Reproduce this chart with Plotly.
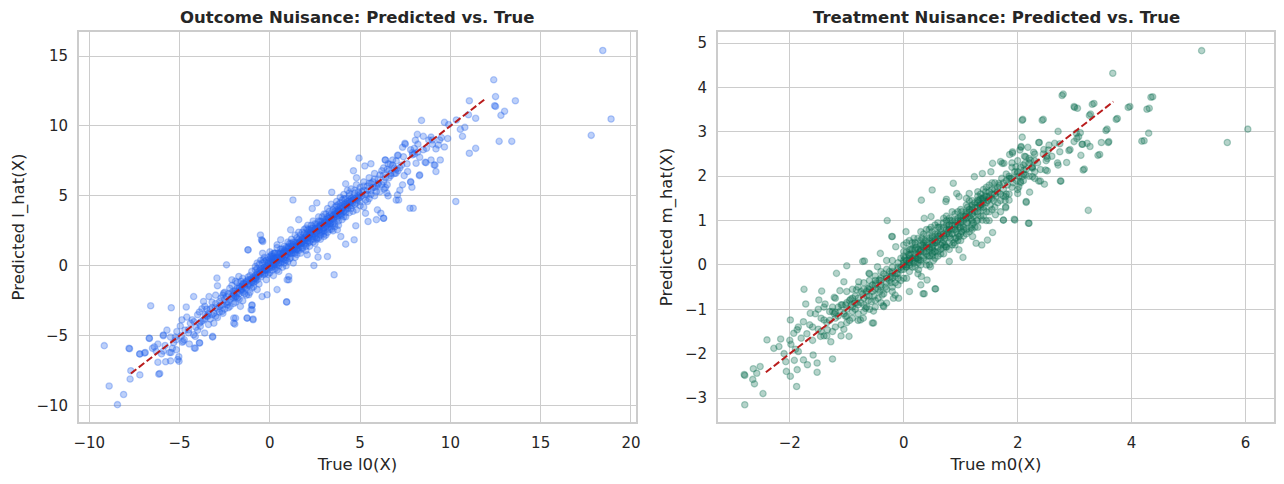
import plotly.graph_objects as go

# ---------------------------------------------------------------------------
# data (true value, predicted value)
# ---------------------------------------------------------------------------
l_low = [
    (-9.17, -5.71), (-8.9, -8.6), (-8.44, -9.93), (-8.1, -9.2), (-7.8, -5.9), (-7.7, -7.5),
    (-7.74, -8.1), (-7.2, -7.8), (-7.2, -6.3), (-6.9, -6.2), (-6.6, -2.86), (-6.67, -5.2),
    (-6.5, -5.9), (-6.4, -5.8), (-6.2, -5.6), (-6.1, -7.7), (-6.15, -7.75), (-6.2, -6.9),
    (-6.0, -6.3), (-5.9, -5.0), (-5.7, -4.6), (-5.55, -6.2), (-5.5, -6.8), (-5.46, -3.0),
    (-5.4, -5.9), (-5.33, -5.5), (-5.24, -5.1), (-5.15, -4.7), (-5.1, -6.7), (-5.04, -6.5),
    (-4.96, -4.3), (-4.87, -3.86), (-4.8, -5.4), (-4.63, -2.95), (-4.6, -3.67), (-4.5, -4.57),
    (-4.3, -3.86), (-4.22, -2.2), (-4.13, -5.9), (-4.13, -5.05), (-3.9, -5.5), (-3.85, -4.33),
    (-3.76, -3.07), (-3.67, -2.55), (-3.57, -3.5), (-3.43, -3.6), (-3.37, -2.2), (-3.2, -3.0),
    (-3.17, -5.05), (-3.1, -4.1), (-2.93, -0.88), (-2.9, -1.43), (-2.78, -2.55), (-2.65, -3.26),
    (-2.56, -1.95), (-2.4, 0.07), (-2.37, -2.8), (-2.22, -1.6), (-2.1, -1.0), (-2.0, -3.74),
    (-1.94, -4.17), (-1.85, -2.2), (-1.72, -0.76), (-1.63, -2.9), (-1.54, -1.7), (-1.44, -1.24),
    (-1.26, -3.74), (-1.22, 1.14), (-1.17, -2.07), (-1.04, -3.14), (-1.0, -2.83), (-0.93, -3.8),
    (-0.9, -1.0), (-0.8, -0.05), (-0.7, -1.7), (-0.52, 2.2), (-0.43, 1.8), (-0.37, 0.43),
    (-0.24, -0.52), (-0.15, -2.07), (0.13, 0.67), (0.22, -0.05), (0.4, 1.5), (0.93, -2.57),
    (1.05, -1.0), (-7.77, -5.93), (-7.21, -6.31), (-6.94, -6.24), (-6.68, -5.17), (-5.9, -4.95),
    (-5.77, -6.86), (-5.47, -6.2), (-5.03, -6.83), (-4.85, -5.47), (-4.74, -5.28), (-4.46, -5.59),
    (-4.18, -5.88), (-3.89, -5.52), (-3.61, -4.81), (-3.17, -5.1), (-4.22, -4.93), (-5.18, -6.0),
    (-5.9, -6.1),
]
l_mid = [
    (4.94, 7.7), (3.43, 5.26), (1.28, 4.71), (-0.46, 1.86), (-0.39, 1.74), (-1.2, 1.14),
    (3.56, -0.64), (0.93, -2.6), (7.76, 4.12), (6.3, 3.4), (5.9, 3.3), (5.44, 3.17), (4.76, 2.86),
    (4.67, 1.86), (4.2, 1.55), (3.19, 0.67), (2.44, 0.02), (2.67, 0.62), (2.1, 1.6), (1.6, 3.3),
    (2.35, 4.1), (2.6, 4.5), (4.2, 5.86), (4.63, 6.8), (4.8, 6.3), (5.26, 7.14), (5.6, 7.3),
    (6.4, 7.57), (6.55, 7.3), (7.07, 7.9), (7.5, 8.7), (7.9, 8.1), (8.3, 6.5), (8.6, 7.4),
    (7.8, 5.98), (7.2, 5.4), (7.0, 4.7), (6.48, 5.2), (5.96, 4.0), (5.3, 3.76), (5.4, 4.6),
    (4.1, 3.5), (3.74, 2.57), (3.93, 2.1), (3.0, 2.1), (2.63, 1.14), (2.07, 0.79), (1.52, 1.14),
    (1.15, 2.57), (0.6, 1.86), (0.22, 0.9), (0.96, -1.0), (1.05, -0.76), (0.4, -1.7),
    (-0.43, -2.2), (-0.98, -3.14), (-0.98, -2.8), (-1.26, -3.74), (-0.93, -3.86), (-2.0, -4.1),
    (-1.9, -3.74),
]
l_high = [
    (18.44, 15.4), (18.9, 10.5), (17.8, 9.33), (12.4, 13.3), (12.5, 12.1), (13.6, 11.8),
    (11.05, 11.8), (12.5, 11.4), (12.45, 11.45), (13.0, 11.05), (12.8, 10.76), (11.4, 10.55),
    (12.7, 8.9), (13.4, 8.9), (11.4, 8.4), (11.05, 8.05), (11.0, 10.8), (10.67, 9.26),
    (10.8, 9.9), (10.55, 9.76), (10.33, 10.43), (10.3, 4.6), (9.67, 10.26), (9.9, 10.1),
    (9.85, 9.1), (9.67, 8.5), (9.44, 7.57), (9.2, 8.36), (9.2, 6.74), (9.15, 7.2), (9.0, 9.0),
    (8.93, 9.2), (9.4, 9.0), (9.33, 8.64), (9.5, 9.17), (8.4, 10.4), (8.5, 9.26), (8.17, 9.4),
    (8.06, 8.98), (8.68, 8.4), (8.93, 7.57), (8.19, 8.14), (8.0, 8.4), (7.48, 8.76), (7.35, 8.48),
    (7.9, 7.93), (8.3, 7.76), (8.1, 7.33), (8.65, 7.38), (9.1, 7.21), (8.28, 6.45), (7.8, 6.02),
    (7.87, 5.62), (7.94, 4.12), (7.11, 7.9), (6.67, 7.26), (6.39, 7.57), (6.8, 7.57), (6.3, 7.0),
    (6.7, 6.45), (6.98, 6.62), (7.44, 6.45), (7.63, 6.74), (7.35, 5.79), (7.07, 5.07),
    (7.13, 4.71), (6.33, 5.48), (6.55, 5.0), (6.15, 3.76), (6.3, 3.4),
]
l_core = [
    (-4.0, -4.6), (-3.9, -3.3), (-3.8, -4.0), (-3.7, -3.9), (-3.6, -2.9), (-3.5, -3.6),
    (-3.4, -4.2), (-3.3, -3.1), (-3.2, -2.6), (-3.1, -3.4), (-3.0, -3.0), (-3.0, -2.1),
    (-2.9, -3.7), (-2.8, -2.9), (-2.7, -2.3), (-2.6, -2.8), (-2.5, -1.9), (-2.5, -3.1),
    (-2.4, -2.6), (-2.3, -2.0), (-2.2, -2.9), (-2.1, -1.4), (-2.0, -2.3), (-2.0, -1.8),
    (-1.9, -2.6), (-1.8, -1.2), (-1.7, -2.0), (-1.7, -1.5), (-1.6, -1.8), (-1.5, -2.5),
    (-1.5, -0.9), (-1.4, -1.6), (-1.3, -1.1), (-1.3, -2.1), (-1.2, -1.4), (-1.1, -0.7),
    (-1.1, -1.9), (-1.0, -1.2), (-1.0, -0.4), (-0.9, -1.5), (-0.9, -0.9), (-0.8, -0.3),
    (-0.8, -1.1), (-0.7, -0.6), (-0.7, 0.2), (-0.6, -1.3), (-0.6, -0.4), (-0.5, -0.8),
    (-0.5, 0.4), (-0.4, -0.2), (-0.4, 0.9), (-0.3, -0.6), (-0.3, 0.3), (-0.2, 0.0),
    (-0.2, -1.0), (-0.1, 0.6), (-0.1, -0.3), (0.0, 0.2), (0.0, -0.5), (0.0, 1.0), (0.1, -0.1),
    (0.1, 0.5), (0.2, -0.7), (0.2, 0.3), (0.3, 0.9), (0.3, -0.2), (0.4, 0.1), (0.4, 1.3),
    (0.5, 0.6), (0.5, -0.4), (0.6, 0.2), (0.6, 1.0), (0.7, 0.7), (0.7, -0.1), (0.8, 1.4),
    (0.8, 0.4), (0.9, 1.0), (0.9, 0.0), (1.0, 0.8), (1.0, 1.7), (1.1, 0.5), (1.1, 1.2),
    (1.2, 1.9), (1.2, 0.9), (1.3, 1.4), (1.3, 0.2), (1.4, 1.1), (1.4, 2.2), (1.5, 1.6),
    (1.5, 0.8), (1.6, 1.3), (1.6, 2.4), (1.7, 1.8), (1.7, 0.9), (1.8, 2.0), (1.8, 1.3),
    (1.9, 2.6), (1.9, 1.6), (2.0, 1.1), (2.0, 2.2), (2.1, 1.8), (2.1, 2.9), (2.2, 2.3),
    (2.2, 1.4), (2.3, 2.7), (2.3, 1.9), (2.4, 3.2), (2.4, 2.1), (2.5, 2.6), (2.5, 1.6),
    (2.6, 3.0), (2.6, 2.3), (2.7, 2.0), (2.7, 3.5), (2.8, 2.8), (2.8, 1.9), (2.9, 3.2),
    (2.9, 2.4), (3.0, 3.7), (3.0, 2.7), (3.1, 2.2), (3.1, 3.3), (3.2, 3.0), (3.2, 4.1),
    (3.3, 2.6), (3.3, 3.6), (3.4, 3.1), (3.4, 4.4), (3.5, 3.4), (3.5, 2.5), (3.6, 3.9),
    (3.6, 3.0), (3.7, 4.6), (3.7, 3.5), (3.8, 2.9), (3.8, 4.0), (3.9, 3.7), (3.9, 4.9),
    (4.0, 3.3), (4.0, 4.3), (4.1, 3.9), (4.1, 5.1), (4.2, 4.5), (4.2, 3.5), (4.3, 4.1),
    (4.3, 5.4), (4.4, 3.8), (4.4, 4.7), (4.5, 4.3), (4.5, 5.5), (4.6, 3.9), (4.6, 4.9),
    (4.7, 5.2), (4.7, 4.4), (4.8, 5.8), (4.8, 4.0), (4.9, 5.0), (5.0, 4.6), (5.0, 5.6),
    (5.1, 5.3), (5.2, 4.2), (5.2, 6.0), (5.3, 5.1), (5.4, 5.7), (5.5, 4.8), (5.5, 6.3),
    (5.6, 5.4), (5.7, 6.0), (5.8, 5.0), (5.8, 6.6), (5.9, 5.7), (6.0, 6.2), (6.1, 5.3),
    (6.2, 6.8), (6.3, 6.0), (6.4, 5.6), (6.5, 6.9), (6.6, 6.3), (6.8, 7.2), (6.9, 6.6),
    (7.0, 7.5), (7.2, 7.0), (7.4, 7.8), (7.6, 7.3), (7.8, 8.3), (8.0, 8.0), (8.2, 8.7),
    (8.5, 8.3), (8.8, 9.0), (9.0, 8.7),
    (-2.8, -3.3), (-2.6, -2.1), (-2.3, -2.6), (-2.1, -2.2), (-1.9, -1.1), (-1.8, -2.3),
    (-1.6, -1.1), (-1.4, -2.0), (-1.2, -0.8), (-1.0, -1.6), (-0.8, -0.7), (-0.6, 0.1),
    (-0.5, -0.2), (-0.4, -0.6), (-0.3, 0.6), (-0.2, -0.3), (-0.1, 0.2), (0.0, -0.1),
    (0.1, 0.8), (0.2, 0.1), (0.3, 0.4), (0.4, -0.3), (0.5, 0.2), (0.6, 0.6), (0.7, 1.2),
    (0.8, 0.9), (0.9, 0.4), (1.0, 1.2), (1.1, 1.6), (1.2, 1.2), (1.3, 0.9), (1.4, 1.7),
    (1.5, 1.2), (1.6, 1.9), (1.7, 1.4), (1.8, 2.4), (1.9, 2.0), (2.0, 1.6), (2.1, 2.4),
    (2.2, 2.0), (2.3, 2.3), (2.4, 2.7), (2.5, 2.1), (2.6, 2.7), (2.7, 2.5), (2.8, 3.2),
    (2.9, 2.9), (3.0, 3.2), (3.1, 2.8), (3.2, 3.5), (3.3, 3.2), (3.4, 3.7), (3.5, 3.0),
    (3.6, 3.5), (3.7, 4.0), (3.8, 3.6), (3.9, 4.2), (4.0, 3.8), (4.1, 4.4), (4.2, 4.0),
    (4.3, 4.6), (4.4, 4.3), (4.5, 4.8), (4.6, 4.5), (4.8, 4.9), (5.0, 5.1), (5.2, 5.4),
    (5.4, 5.1), (5.6, 5.9), (5.8, 5.6), (6.0, 5.8), (6.3, 6.5), (6.6, 6.8), (7.0, 6.9),
    (-0.7, -0.2), (-0.3, -0.1), (0.0, 0.5), (0.2, 0.6), (0.4, 0.6), (0.6, 0.9), (0.8, 0.2),
    (1.0, 0.3), (1.2, 1.6), (1.4, 0.6), (1.6, 1.6), (1.8, 1.7), (2.0, 2.7), (2.2, 2.6),
    (2.4, 1.7), (2.6, 1.9), (2.8, 2.4), (3.0, 2.3), (3.2, 2.4), (3.4, 2.8), (3.6, 4.2),
    (3.8, 4.4), (4.0, 4.7), (4.2, 4.8), (4.4, 5.0), (-1.5, -1.3), (-2.0, -2.7), (-2.5, -2.4),
    (-3.0, -3.6), (-3.5, -3.1), (-4.2, -4.0), (-4.5, -4.8), (-4.0, -3.5), (-3.3, -3.8),
]
l_core2 = [
    (-3.0, -2.7), (-2.9, -3.1), (-2.7, -2.8), (-2.6, -3.4), (-2.4, -2.2), (-2.3, -3.0),
    (-2.2, -2.4), (-2.1, -1.9), (-2.0, -2.0), (-1.9, -2.2), (-1.8, -1.6), (-1.7, -2.4),
    (-1.6, -1.5), (-1.5, -1.9), (-1.4, -1.3), (-1.3, -1.6), (-1.2, -1.0), (-1.1, -1.4),
    (-1.0, -0.9), (-0.9, -1.2), (-0.8, -0.9), (-0.7, -1.0), (-0.6, -0.7), (-0.5, -0.5),
    (-0.4, 0.2), (-0.3, -0.3), (-0.2, 0.4), (-0.1, -0.6), (0.0, 0.0), (0.05, 0.7), (0.1, 0.2),
    (0.15, -0.3), (0.2, 0.5), (0.25, 0.9), (0.3, 0.1), (0.35, 0.6), (0.4, 0.3), (0.45, 0.9),
    (0.5, 0.0), (0.55, 0.5), (0.6, 1.2), (0.65, 0.4), (0.7, 0.9), (0.75, 0.5), (0.8, 1.1),
    (0.85, 0.7), (0.9, 1.3), (0.95, 0.6), (1.0, 1.0), (1.05, 1.4), (1.1, 0.9), (1.15, 0.6),
    (1.2, 1.4), (1.25, 1.1), (1.3, 1.7), (1.35, 1.2), (1.4, 0.9), (1.45, 1.4), (1.5, 2.0),
    (1.55, 1.5), (1.6, 1.1), (1.65, 1.7), (1.7, 2.2), (1.75, 1.6), (1.8, 1.2), (1.85, 1.9),
    (1.9, 2.3), (1.95, 1.8), (2.0, 1.4), (2.05, 2.0), (2.1, 2.6), (2.15, 2.1), (2.2, 1.7),
    (2.25, 2.4), (2.3, 2.9), (2.35, 2.2), (2.4, 1.9), (2.45, 2.5), (2.5, 3.0), (2.55, 2.4),
    (2.6, 2.0), (2.65, 2.8), (2.7, 3.2), (2.75, 2.5), (2.8, 2.2), (2.85, 3.0), (2.9, 3.5),
    (2.95, 2.7), (3.0, 2.5), (3.05, 3.1), (3.1, 3.7), (3.15, 2.9), (3.2, 2.7), (3.25, 3.4),
    (3.3, 3.9), (3.35, 3.0), (3.4, 2.6), (3.45, 3.5), (3.5, 4.0), (3.55, 3.3), (3.6, 2.8),
    (3.65, 3.7), (3.7, 4.3), (3.75, 3.4), (3.8, 3.2), (3.85, 3.9), (3.9, 4.5), (3.95, 3.6),
    (4.0, 4.0), (4.1, 4.8), (4.2, 3.8), (4.3, 4.4), (4.4, 5.2), (4.5, 4.1), (4.6, 4.7),
    (4.7, 5.4), (4.8, 4.5), (4.9, 5.3), (5.0, 4.3), (5.1, 5.0), (5.2, 5.7), (5.3, 4.7),
    (5.4, 5.4), (5.5, 5.9), (5.6, 5.1), (5.7, 5.6), (5.8, 6.2), (5.9, 5.3), (6.0, 5.9),
    (6.1, 6.5), (6.2, 5.8), (6.4, 6.3), (6.5, 5.8), (6.7, 6.6), (6.9, 7.0), (7.1, 6.8),
    (7.3, 7.2), (-3.6, -3.8), (-3.9, -4.1), (-4.1, -4.4), (-4.4, -4.1), (-4.7, -4.6),
    (-4.9, -5.0), (-5.2, -5.3), (-5.5, -5.1), (-5.8, -5.7), (-6.3, -6.1), (-3.4, -3.4),
    (-3.2, -3.5),
]
l_core3 = [
    (-2.0, -2.1), (-1.9, -1.8), (-1.8, -1.9), (-1.7, -1.6), (-1.6, -1.7), (-1.5, -1.4),
    (-1.4, -1.5), (-1.3, -1.2), (-1.2, -1.3), (-1.1, -1.0), (-1.0, -1.1), (-0.9, -0.8),
    (-0.8, -0.9), (-0.7, -0.5), (-0.6, -0.6), (-0.5, -0.3), (-0.4, -0.4), (-0.3, -0.1),
    (-0.2, -0.2), (-0.1, 0.1), (0.0, 0.3), (0.1, 0.0), (0.2, 0.4), (0.3, 0.5), (0.4, 0.4),
    (0.5, 0.8), (0.6, 0.5), (0.7, 0.8), (0.8, 1.0), (0.9, 0.8), (1.0, 1.3), (1.1, 1.0),
    (1.2, 1.1), (1.3, 1.5), (1.4, 1.3), (1.5, 1.7), (1.6, 1.5), (1.7, 1.7), (1.8, 1.9),
    (1.9, 1.8), (2.0, 2.1), (2.1, 2.0), (2.2, 2.2), (2.3, 2.5), (2.4, 2.3), (2.5, 2.7),
    (2.6, 2.5), (2.7, 2.7), (2.8, 2.9), (2.9, 2.6), (3.0, 3.0), (3.1, 3.1), (3.2, 3.2),
    (3.3, 3.4), (3.4, 3.3), (3.5, 3.6), (3.6, 3.7), (3.7, 3.8), (3.8, 3.9), (3.9, 3.9),
    (4.0, 4.1), (4.1, 4.2), (4.2, 4.3), (4.3, 4.3), (4.4, 4.5), (4.5, 4.6), (4.6, 4.7),
    (4.7, 4.8), (4.8, 4.7), (4.9, 4.8), (5.0, 4.9), (0.25, 0.2), (0.75, 0.9), (1.25, 1.3),
    (1.75, 1.6), (2.25, 2.3), (2.75, 2.8), (3.25, 3.0), (3.75, 3.7), (-0.25, -0.3),
    (-0.75, -0.8),
]

m_low = [
    (-2.79, -3.15), (-2.8, -2.47), (-2.79, -2.49), (-2.64, -2.34), (-2.65, -2.58), (-2.62, -2.68),
    (-2.52, -2.29), (-2.58, -2.44), (-2.47, -2.9), (-2.4, -1.69), (-2.28, -1.88), (-2.19, -1.84),
    (-2.16, -1.67), (-1.99, -1.24), (-1.98, -1.79), (-2.07, -2.18), (-2.06, -2.4), (-1.99, -2.51),
    (-1.92, -2.15), (-1.88, -2.74), (-1.87, -2.36), (-1.85, -1.95), (-1.93, -1.54), (-1.87, -1.46),
    (-1.76, -1.28), (-1.76, -2.14), (-1.75, -0.55), (-1.72, -0.88), (-1.69, -2.25), (-1.64, -1.09),
    (-1.6, -1.4), (-1.59, -2.03), (-1.52, -2.42), (-1.52, -2.21), (-1.5, -1.0), (-1.49, -0.79),
    (-1.46, -1.61), (-1.44, -0.59), (-1.4, -1.24), (-1.38, -0.88), (-1.34, -1.46), (-1.28, -1.73),
    (-1.25, -2.12), (-1.25, -1.05), (-1.22, -0.73), (-1.18, -0.19), (-1.2, -1.07), (-1.12, -0.58),
    (-1.08, -0.9), (-1.05, -0.38), (-1.0, -0.02), (-1.02, -1.16), (-0.96, -1.61), (-0.93, -0.77),
    (-0.86, -0.86), (-0.83, -0.56), (-0.79, -0.38), (-0.76, -1.24), (-0.72, 0.08), (-0.67, -0.98),
    (-0.65, -0.6), (-0.61, -0.19), (-0.57, -0.83), (-0.53, -1.31), (-0.49, -0.41), (-0.46, -0.04),
    (-0.41, 0.26), (-0.38, -0.68), (-0.35, -0.94), (-0.29, 1.0), (-0.23, -0.26), (-0.21, 0.64),
    (-0.18, -0.75), (-0.14, 0.41), (-0.09, -0.75), (-0.04, -0.11), (0.09, 0.23), (0.18, 0.04),
    (0.26, -0.11), (0.31, -0.26), (0.34, -0.65), (0.41, -0.34), (0.47, -0.04), (0.53, 0.3),
    (0.55, -0.54),
]
m_mid = [
    (0.31, 1.46), (0.5, 1.69), (0.87, 1.84), (0.75, 1.48), (0.93, 1.61), (1.24, 1.99),
    (1.38, 2.06), (1.53, 2.1), (1.56, 2.29), (1.73, 2.29), (1.91, 2.52), (2.06, 2.65),
    (2.14, 2.44), (2.37, 2.76), (2.49, 2.14), (2.52, 2.4), (2.4, 1.89), (2.2, 0.94), (2.15, 1.43),
    (1.95, 1.01), (1.75, 1.01), (1.79, 1.29), (1.56, 0.73), (1.47, 0.56), (1.37, 0.45),
    (1.27, 0.49), (1.21, 0.64), (1.04, 0.17), (0.97, 0.34), (0.8, 0.08), (0.56, -0.54),
    (0.36, -0.65), (0.3, -0.45), (0.1, -0.6), (-0.15, -0.68), (-0.3, -0.86), (-0.36, -0.92),
    (-0.53, -1.04), (-0.55, -1.31), (-0.71, -1.2), (-0.69, 0.09), (-0.2, 0.64), (0.04, 0.75),
    (0.36, 1.05), (0.48, 1.09), (0.74, 1.43), (0.97, 1.54), (1.15, 1.61), (1.3, 1.46),
    (1.44, 1.65), (1.67, 1.84), (1.85, 1.95), (1.99, 2.06), (2.26, 2.18), (1.79, 1.54),
    (1.61, 1.13), (1.38, 1.01), (1.18, 0.83), (0.97, 0.64), (0.74, 0.41), (0.5, 0.26),
    (0.27, 0.11), (0.04, -0.04), (-0.2, -0.19), (-0.43, -0.34), (-0.63, -0.53),
]
m_high = [
    (5.23, 4.83), (3.67, 4.32), (6.04, 3.06), (5.68, 2.76), (4.34, 3.78), (4.27, 3.51),
    (4.3, 2.97), (4.18, 2.79), (3.94, 3.55), (3.73, 3.28), (3.31, 3.62), (3.26, 3.37),
    (3.0, 3.55), (3.05, 3.53), (2.78, 3.82), (3.55, 3.03), (3.47, 2.76), (3.59, 2.76),
    (3.41, 2.47), (3.15, 2.14), (3.24, 1.23), (3.07, 2.89), (3.04, 2.85), (3.03, 2.97),
    (3.1, 2.98), (3.22, 2.74), (3.27, 2.67), (3.11, 2.47), (3.13, 2.72), (2.99, 2.78),
    (2.9, 2.58), (2.86, 2.31), (2.74, 2.55), (2.71, 3.01), (2.71, 2.25), (2.7, 2.3),
    (2.75, 1.89), (2.65, 2.74), (2.54, 2.59), (2.51, 2.45), (2.43, 3.26), (2.38, 2.76),
    (2.46, 2.6), (2.52, 2.12), (2.47, 1.82), (2.37, 1.89), (2.28, 2.54), (2.18, 2.65),
    (2.08, 3.26), (2.08, 2.88), (2.06, 2.67), (2.04, 2.59), (1.91, 2.55), (1.86, 2.49),
    (2.13, 2.29), (2.23, 2.36), (2.26, 2.21), (2.11, 2.14), (2.14, 2.03), (2.08, 1.99),
    (1.97, 2.21), (1.76, 2.29), (1.7, 2.33), (1.9, 1.95), (2.02, 1.76), (2.21, 1.64),
    (2.0, 1.61), (1.85, 1.46), (1.79, 1.31), (2.15, 1.41), (1.75, 1.01), (1.94, 1.03),
    (2.19, 0.94), (2.05, 1.88), (2.26, 1.99), (2.3, 2.1), (2.09, 3.28), (2.45, 3.28),
    (2.76, 1.89), (3.17, 2.16), (3.44, 2.49), (3.57, 3.06), (3.75, 3.3), (3.97, 3.57),
    (4.31, 3.53), (4.37, 3.79), (4.22, 2.8), (2.8, 3.85), (2.99, 3.57), (3.34, 3.64),
    (3.28, 3.4), (3.6, 2.78), (3.14, 2.72), (2.92, 2.6), (2.74, 2.73),
]
m_core = [
    (-1.5, -1.45), (-1.45, -1.2), (-1.4, -1.6), (-1.35, -1.3), (-1.3, -1.05), (-1.25, -1.5),
    (-1.2, -1.2), (-1.15, -0.95), (-1.1, -1.35), (-1.05, -1.1), (-1.0, -0.85), (-0.95, -1.25),
    (-0.9, -0.95), (-0.85, -0.7), (-0.8, -1.1), (-0.75, -0.85), (-0.7, -0.55), (-0.65, -0.95),
    (-0.6, -0.7), (-0.55, -0.45), (-0.5, -0.8), (-0.45, -0.55), (-0.4, -0.3), (-0.35, -0.65),
    (-0.3, -0.4), (-0.25, -0.15), (-0.2, -0.5), (-0.15, -0.25), (-0.1, 0.05), (-0.05, -0.35),
    (0.0, -0.1), (0.0, 0.2), (0.05, 0.1), (0.1, -0.15), (0.1, 0.35), (0.15, 0.15), (0.2, -0.05),
    (0.2, 0.45), (0.25, 0.25), (0.3, 0.0), (0.3, 0.55), (0.35, 0.3), (0.4, 0.1), (0.4, 0.65),
    (0.45, 0.4), (0.5, 0.2), (0.5, 0.75), (0.55, 0.5), (0.6, 0.3), (0.6, 0.85), (0.65, 0.6),
    (0.7, 0.4), (0.7, 0.95), (0.75, 0.7), (0.8, 0.5), (0.8, 1.05), (0.85, 0.8), (0.9, 0.6),
    (0.9, 1.15), (0.95, 0.9), (1.0, 0.7), (1.0, 1.25), (1.05, 1.0), (1.1, 0.8), (1.1, 1.35),
    (1.15, 1.1), (1.2, 0.9), (1.2, 1.45), (1.25, 1.2), (1.3, 1.0), (1.3, 1.55), (1.35, 1.3),
    (1.4, 1.1), (1.4, 1.7), (1.45, 1.4), (1.5, 1.2), (1.5, 1.8), (1.55, 1.5), (1.6, 1.3),
    (1.65, 1.65), (1.7, 1.45), (1.75, 1.85), (1.8, 1.6), (1.85, 2.0), (1.9, 1.75), (2.0, 2.1),
    (2.05, 1.85), (2.1, 2.25), (2.2, 2.0), (2.3, 2.35), (2.4, 2.15),
    (-1.2, -0.75), (-1.1, -1.6), (-1.0, -1.3), (-0.9, -0.55), (-0.8, -0.75), (-0.7, -1.05),
    (-0.6, -0.35), (-0.5, -0.55), (-0.4, -0.85), (-0.3, -0.1), (-0.2, -0.3), (-0.1, -0.45),
    (0.0, 0.45), (0.05, -0.3), (0.1, 0.1), (0.15, 0.5), (0.2, 0.2), (0.25, -0.2), (0.3, 0.35),
    (0.35, 0.7), (0.4, 0.4), (0.45, 0.0), (0.5, 0.5), (0.55, 0.9), (0.6, 0.55), (0.65, 0.25),
    (0.7, 0.7), (0.75, 1.1), (0.8, 0.8), (0.85, 0.45), (0.9, 0.85), (0.95, 1.2), (1.0, 0.95),
    (1.05, 0.65), (1.1, 1.05), (1.15, 1.45), (1.2, 1.15), (1.25, 0.85), (1.3, 1.3), (1.35, 1.6),
    (1.4, 1.4), (1.45, 1.0), (1.5, 1.5), (1.55, 1.85), (1.6, 1.6), (1.7, 1.2), (1.8, 1.9),
    (1.9, 2.2), (2.0, 1.7), (2.1, 1.9), (2.2, 2.3), (2.3, 1.95), (2.5, 2.35),
    (0.0, 0.0), (0.1, 0.2), (0.2, 0.35), (0.3, 0.2), (0.4, 0.25), (0.5, 0.35), (0.6, 0.7),
    (0.7, 0.55), (0.8, 0.65), (0.9, 1.0), (1.0, 1.1), (1.1, 0.95), (1.2, 1.3), (1.3, 1.15),
    (1.4, 1.25), (-0.1, -0.1), (-0.2, 0.1), (-0.3, -0.25), (-0.4, -0.5), (-0.5, -0.35),
    (-0.6, -0.5), (-0.7, -0.75), (-0.8, -0.5), (-0.9, -0.75), (-1.0, -1.0), (0.35, 0.5),
    (0.55, 0.15), (0.75, 0.9), (0.95, 0.55), (1.15, 0.75), (1.35, 1.5), (1.55, 1.25),
    (1.75, 1.55), (0.05, 0.3), (0.25, 0.05), (0.45, 0.8), (0.65, 0.45), (0.85, 1.2), (1.05, 0.85),
]
m_core2 = [
    (-1.3, -1.25), (-1.25, -0.95), (-1.2, -1.4), (-1.15, -1.15), (-1.1, -0.9), (-1.05, -1.45),
    (-1.0, -1.15), (-0.95, -0.8), (-0.9, -1.2), (-0.85, -1.0), (-0.8, -0.9), (-0.75, -0.6),
    (-0.7, -0.9), (-0.65, -0.7), (-0.6, -1.0), (-0.55, -0.6), (-0.5, -0.25), (-0.45, -0.75),
    (-0.4, -0.45), (-0.35, -0.2), (-0.3, -0.55), (-0.25, -0.35), (-0.2, -0.05), (-0.15, -0.4),
    (-0.1, -0.2), (-0.05, 0.15), (-0.05, -0.05), (0.0, 0.3), (0.0, -0.3), (0.05, 0.0),
    (0.05, 0.5), (0.1, 0.0), (0.1, 0.55), (0.12, 0.25), (0.15, -0.05), (0.15, 0.35),
    (0.18, 0.6), (0.2, 0.1), (0.22, 0.4), (0.25, 0.15), (0.25, 0.6), (0.28, 0.3), (0.3, 0.1),
    (0.3, 0.75), (0.33, 0.45), (0.35, 0.15), (0.38, 0.55), (0.4, 0.3), (0.4, 0.8), (0.42, 0.5),
    (0.45, 0.2), (0.45, 0.6), (0.48, 0.85), (0.5, 0.4), (0.5, 0.65), (0.52, 0.1), (0.55, 0.3),
    (0.55, 0.7), (0.58, 0.5), (0.6, 0.2), (0.6, 0.95), (0.62, 0.65), (0.65, 0.35), (0.65, 0.8),
    (0.68, 0.5), (0.7, 0.25), (0.7, 0.85), (0.72, 0.6), (0.75, 0.4), (0.75, 1.0), (0.78, 0.75),
    (0.8, 0.35), (0.8, 0.9), (0.82, 0.6), (0.85, 1.0), (0.85, 0.7), (0.88, 0.5), (0.9, 0.9),
    (0.92, 0.75), (0.95, 0.7), (0.95, 1.05), (0.98, 0.85), (1.0, 0.55), (1.0, 1.0), (1.02, 1.2),
    (1.05, 0.8), (1.08, 1.1), (1.1, 0.7), (1.1, 1.2), (1.12, 0.95), (1.15, 1.25), (1.18, 1.05),
    (1.2, 0.8), (1.2, 1.35), (1.22, 1.1), (1.25, 1.4), (1.28, 1.0), (1.3, 1.2), (1.3, 1.65),
    (1.33, 1.35), (1.35, 1.1), (1.38, 1.5), (1.4, 1.3), (1.42, 1.55), (1.45, 1.2), (1.45, 1.75),
    (1.48, 1.45), (1.5, 1.65), (1.52, 1.35), (1.55, 1.7), (1.58, 1.45), (1.6, 1.85),
    (1.62, 1.55), (1.65, 1.4), (1.68, 1.8), (1.7, 1.6), (1.72, 1.95), (1.75, 1.7), (1.78, 1.45),
    (1.8, 2.05), (1.82, 1.8), (1.85, 1.6), (1.88, 1.95), (1.9, 2.3), (1.92, 1.85), (1.95, 2.1),
    (1.98, 1.9), (2.0, 2.35), (2.02, 2.0), (2.05, 2.2), (2.1, 2.05), (2.12, 2.45), (2.15, 2.15),
    (2.2, 2.4), (2.25, 2.2), (2.3, 2.5), (2.35, 2.3), (2.45, 2.5), (2.55, 2.7), (2.6, 2.45),
    (-1.6, -1.7), (-1.65, -1.35), (-1.7, -1.55), (-1.55, -1.1), (-1.45, -1.5), (-1.35, -1.6),
    (-1.4, -0.95), (-1.8, -1.65), (-1.9, -1.9), (-2.0, -1.7), (-2.1, -2.0), (-1.85, -1.4),
    (0.1, 0.05), (0.2, 0.5), (0.3, 0.45), (0.4, 0.0), (0.5, 0.55), (0.6, 0.4), (0.7, 1.05),
    (0.8, 0.7), (0.9, 0.45), (1.0, 0.85), (1.1, 1.5), (1.2, 1.0), (1.3, 0.85), (1.4, 1.5),
    (1.5, 1.0), (0.0, 0.1), (-0.1, -0.3), (-0.2, -0.6), (-0.3, 0.1), (-0.4, -0.15),
    (-0.5, -0.95), (-0.6, -0.2), (-0.7, -0.4), (-0.8, -1.25), (-0.9, -1.05), (-1.0, -0.6),
]
m_core3 = [
    (-0.6, -0.55), (-0.5, -0.45), (-0.4, -0.35), (-0.3, -0.3), (-0.2, -0.15), (-0.1, -0.05),
    (0.0, 0.05), (0.05, -0.05), (0.1, 0.15), (0.15, 0.1), (0.2, 0.25), (0.25, 0.35), (0.3, 0.3),
    (0.35, 0.4), (0.4, 0.45), (0.45, 0.35), (0.5, 0.6), (0.55, 0.55), (0.6, 0.65), (0.65, 0.7),
    (0.7, 0.65), (0.75, 0.8), (0.8, 0.85), (0.85, 0.9), (0.9, 0.8), (0.95, 1.0), (1.0, 1.05),
    (1.05, 1.1), (1.1, 1.15), (1.15, 1.2), (1.2, 1.25), (1.25, 1.3), (1.3, 1.4), (1.35, 1.35),
    (1.4, 1.45), (1.45, 1.55), (1.5, 1.55), (1.55, 1.6), (1.6, 1.7), (1.65, 1.75), (0.02, 0.15),
    (0.12, 0.35), (0.22, 0.15), (0.32, 0.6), (0.42, 0.2), (0.52, 0.45), (0.62, 0.85),
    (0.72, 0.45), (0.82, 1.0), (0.92, 0.6), (1.02, 0.75), (1.12, 1.3), (1.22, 0.95),
    (1.32, 1.45), (-0.12, -0.2), (-0.22, -0.4), (-0.32, -0.5), (-0.42, -0.6), (-0.52, -0.7),
    (-0.62, -0.8), (-0.72, -0.65), (-0.82, -0.85), (-0.92, -0.9), (-1.02, -0.9), (-1.12, -1.05),
    (-1.22, -1.1),
]

# ends of the dashed identity reference lines
l_line = [-7.7, 12.0]
m_line = [-2.42, 3.68]

l_ticks = [-10, -5, 0, 5, 10, 15, 20]
l_yticks = [-10, -5, 0, 5, 10, 15]
m_ticks = [-2, 0, 2, 4, 6]
m_yticks = [-3, -2, -1, 0, 1, 2, 3, 4, 5]

l_pts = l_low + l_mid + l_high + l_core + l_core2 + l_core3
m_pts = m_low + m_mid + m_high + m_core + m_core2 + m_core3

BLUE = "rgba(37,99,235,0.3)"
GREEN = "rgba(11,110,79,0.3)"
RED = "#b91c1c"
TXT = "#262626"
GRID = "#cccccc"
W, H = 1284, 484

fig = go.Figure()
fig.add_trace(go.Scatter(
    x=[p[0] for p in l_pts], y=[p[1] for p in l_pts], mode="markers",
    marker=dict(size=6.3, color=BLUE, line=dict(width=1.3, color=BLUE)),
    xaxis="x", yaxis="y", showlegend=False))
fig.add_trace(go.Scatter(
    x=l_line, y=l_line, mode="lines", line=dict(color=RED, width=2, dash="7px,3px"),
    xaxis="x", yaxis="y", showlegend=False))
fig.add_trace(go.Scatter(
    x=[p[0] for p in m_pts], y=[p[1] for p in m_pts], mode="markers",
    marker=dict(size=6.3, color=GREEN, line=dict(width=1.3, color=GREEN)),
    xaxis="x2", yaxis="y2", showlegend=False))
fig.add_trace(go.Scatter(
    x=m_line, y=m_line, mode="lines", line=dict(color=RED, width=2, dash="7px,3px"),
    xaxis="x2", yaxis="y2", showlegend=False))

ax = dict(showgrid=True, gridcolor=GRID, gridwidth=1.3, zeroline=False, showline=True,
          linecolor=GRID, linewidth=1.7, mirror=True, ticks="", automargin=False,
          tickfont=dict(size=15, color=TXT), ticklabelstandoff=6)
ydom = [1 - 422 / H, 1 - 32 / H]

fig.update_layout(
    width=W, height=H, margin=dict(l=0, r=0, t=0, b=0),
    paper_bgcolor="white", plot_bgcolor="white",
    font=dict(family="DejaVu Sans", color=TXT),
    xaxis=dict(ax, domain=[79 / W, 636 / W], range=[-10.57, 20.28], tickvals=l_ticks,
               title=dict(text="True l0(X)", font=dict(size=16.5), standoff=8), anchor="y"),
    yaxis=dict(ax, domain=ydom, range=[-11.17, 16.72], tickvals=l_yticks,
               title=dict(text="Predicted l_hat(X)", font=dict(size=16.5), standoff=8), anchor="x"),
    xaxis2=dict(ax, domain=[718 / W, 1274 / W], range=[-3.26, 6.5], tickvals=m_ticks,
                title=dict(text="True m0(X)", font=dict(size=16.5), standoff=8), anchor="y2"),
    yaxis2=dict(ax, domain=ydom, range=[-3.54, 5.25], tickvals=m_yticks,
                title=dict(text="Predicted m_hat(X)", font=dict(size=16.5), standoff=8), anchor="x2"),
    annotations=[
        dict(text="<b>Outcome Nuisance: Predicted vs. True</b>", x=(79 + 636) / 2 / W,
             y=1 - 18 / H, xref="paper", yref="paper", showarrow=False,
             xanchor="center", yanchor="middle", font=dict(size=16.5, color=TXT)),
        dict(text="<b>Treatment Nuisance: Predicted vs. True</b>", x=(718 + 1274) / 2 / W,
             y=1 - 18 / H, xref="paper", yref="paper", showarrow=False,
             xanchor="center", yanchor="middle", font=dict(size=16.5, color=TXT)),
    ],
)

# page body has an 8px default margin; drop it so the figure sits at the window corner
fig.write_html("out.html", config={"displayModeBar": False},
               post_script="document.body.style.margin='0';")
